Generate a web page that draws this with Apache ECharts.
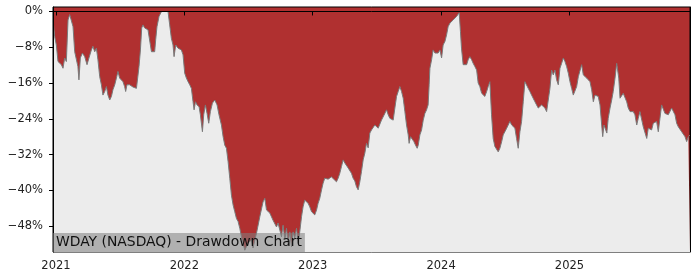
<!DOCTYPE html>
<html>
<head>
<meta charset="utf-8">
<script src="https://cdn.jsdelivr.net/npm/echarts@6/dist/echarts.min.js"></script>
<style>html,body{margin:0;padding:0;background:#fff;}#c{width:700px;height:280px;}</style>
</head>
<body>
<div id="c"></div>
<script>
// Time in decimal years, drawdown in percent
const years = [
2020.977,2020.990,2021.003,2021.016,2021.029,2021.042,2021.055,2021.068,2021.081,2021.094,
2021.107,2021.120,2021.133,2021.146,2021.159,2021.171,2021.179,2021.190,2021.206,2021.224,
2021.242,2021.257,2021.276,2021.288,2021.302,2021.315,2021.327,2021.341,2021.354,2021.366,
2021.380,2021.393,2021.405,2021.419,2021.432,2021.444,2021.458,2021.471,2021.483,2021.496,
2021.510,2021.522,2021.535,2021.543,2021.553,2021.574,2021.588,2021.600,2021.627,2021.634,
2021.647,2021.658,2021.668,2021.678,2021.691,2021.705,2021.717,2021.730,2021.744,2021.756,
2021.769,2021.777,2021.787,2021.803,2021.822,2021.847,2021.873,2021.886,2021.899,2021.912,
2021.920,2021.933,2021.951,2021.964,2021.977,2021.990,2022.003,2022.016,2022.029,2022.042,
2022.055,2022.068,2022.076,2022.087,2022.099,2022.115,2022.125,2022.141,2022.151,2022.164,
2022.177,2022.190,2022.203,2022.219,2022.237,2022.255,2022.270,2022.289,2022.302,2022.315,
2022.328,2022.341,2022.354,2022.367,2022.380,2022.393,2022.406,2022.419,2022.432,2022.445,
2022.458,2022.471,2022.496,2022.523,2022.535,2022.562,2022.588,2022.613,2022.627,2022.640,
2022.666,2022.679,2022.691,2022.718,2022.730,2022.744,2022.757,2022.769,2022.783,2022.796,
2022.808,2022.822,2022.835,2022.847,2022.860,2022.874,2022.886,2022.899,2022.913,2022.925,
2022.938,2022.952,2022.964,2022.977,2022.991,2023.003,2023.016,2023.030,2023.042,2023.055,
2023.069,2023.081,2023.094,2023.108,2023.120,2023.133,2023.146,2023.159,2023.185,2023.198,
2023.211,2023.224,2023.237,2023.250,2023.263,2023.276,2023.302,2023.315,2023.328,2023.341,
2023.354,2023.367,2023.380,2023.393,2023.406,2023.419,2023.432,2023.445,2023.458,2023.471,
2023.484,2023.497,2023.510,2023.523,2023.536,2023.549,2023.562,2023.575,2023.588,2023.601,
2023.614,2023.627,2023.640,2023.653,2023.666,2023.679,2023.692,2023.705,2023.718,2023.731,
2023.744,2023.751,2023.762,2023.775,2023.788,2023.801,2023.814,2023.822,2023.835,2023.848,
2023.861,2023.874,2023.887,2023.899,2023.907,2023.913,2023.926,2023.938,2023.952,2023.965,
2023.977,2023.991,2024.004,2024.016,2024.030,2024.043,2024.055,2024.069,2024.082,2024.094,
2024.107,2024.121,2024.133,2024.141,2024.151,2024.159,2024.172,2024.185,2024.199,2024.211,
2024.224,2024.238,2024.250,2024.263,2024.277,2024.289,2024.302,2024.316,2024.328,2024.341,
2024.355,2024.367,2024.380,2024.393,2024.406,2024.419,2024.432,2024.445,2024.458,2024.472,
2024.484,2024.497,2024.511,2024.523,2024.536,2024.550,2024.562,2024.575,2024.588,2024.601,
2024.614,2024.627,2024.640,2024.653,2024.666,2024.679,2024.692,2024.705,2024.718,2024.731,
2024.744,2024.757,2024.770,2024.783,2024.796,2024.809,2024.822,2024.835,2024.848,2024.861,
2024.874,2024.887,2024.900,2024.913,2024.926,2024.939,2024.952,2024.965,2024.978,2024.991,
2025.004,2025.017,2025.030,2025.043,2025.056,2025.069,2025.082,2025.095,2025.108,2025.121,
2025.134,2025.147,2025.160,2025.173,2025.186,2025.199,2025.212,2025.224,2025.238,2025.251,
2025.259,2025.269,2025.279,2025.291,2025.302,2025.316,2025.329,2025.341,2025.355,2025.368,
2025.376,2025.384,2025.394,2025.407,2025.419,2025.433,2025.446,2025.458,2025.472,2025.485,
2025.497,2025.510,2025.524,2025.536,2025.549,2025.562,2025.575,2025.588,2025.602,2025.614,
2025.627,2025.640,2025.653,2025.666,2025.679,2025.692,2025.705,2025.718,2025.731,2025.744,
2025.757,2025.770,2025.783,2025.796,2025.809,2025.822,2025.835,2025.848,2025.861,2025.874,
2025.887,2025.900,2025.913,2025.926,2025.939
];
const drawdown = [
-1.9,-5.6,-7.5,-11.2,-11.6,-11.9,-12.7,-10.4,-11.2,-1.9,
-0.7,-0.7,-3.4,-9.0,-9.3,-12.3,-15.3,-10.4,-9.3,-10.1,
-11.9,-10.4,-8.6,-7.8,-9.0,-8.2,-10.8,-14.6,-16.4,-18.7,
-17.9,-16.8,-18.7,-19.8,-19.0,-17.5,-16.4,-14.9,-13.4,-14.9,
-15.3,-15.7,-16.8,-17.9,-16.4,-16.4,-16.8,-16.9,-17.2,-16.8,
-12.3,-8.6,-3.7,-3.0,-3.7,-3.7,-4.1,-4.1,-9.0,-9.3,
-9.0,-6.3,-3.4,-1.1,0,0,0,-3.0,-6.0,-7.5,
-10.1,-7.5,-8.2,-7.8,-8.6,-9.7,-13.8,-14.9,-15.7,-16.4,
-17.2,-20.2,-22.0,-20.2,-20.9,-21.3,-23.1,-26.9,-23.1,-20.9,
-22.8,-25.0,-22.4,-20.5,-19.8,-20.9,-23.1,-25.4,-28.0,-29.9,
-30.6,-33.6,-37.3,-41.1,-43.3,-44.8,-46.3,-47.0,-48.5,-50.4,
-51.8,-53.4,-51.8,-51.1,-52.9,-49.6,-45.9,-42.6,-41.8,-44.4,
-45.1,-45.5,-46.7,-48.2,-47.3,-48.9,-50.4,-47.8,-51.1,-48.5,
-51.9,-49.3,-52.6,-49.3,-50.7,-48.5,-51.9,-49.3,-45.9,-43.7,
-42.2,-41.8,-42.9,-43.7,-44.8,-44.9,-45.5,-44.4,-42.9,-41.8,
-39.9,-38.4,-37.3,-37.0,-37.5,-37.7,-37.0,-37.3,-38.1,-37.3,
-36.2,-34.7,-33.2,-33.9,-34.3,-35.0,-36.2,-37.3,-37.9,-39.2,
-39.9,-38.1,-35.8,-33.2,-31.7,-29.5,-30.5,-27.2,-26.5,-26.9,
-25.4,-25.8,-26.1,-26.1,-24.3,-24.3,-22.8,-22.0,-23.1,-23.9,
-24.3,-24.3,-21.6,-19.0,-17.9,-16.8,-17.9,-19.4,-22.4,-25.4,
-27.6,-29.5,-28.0,-28.4,-29.1,-29.9,-30.6,-29.9,-27.6,-26.5,
-24.3,-22.8,-22.0,-20.9,-16.4,-12.7,-10.8,-8.6,-9.3,-9.0,
-9.3,-8.6,-10.4,-7.5,-6.7,-5.2,-3.4,-2.6,-2.6,-1.9,
-1.5,-1.1,-0.9,-0.3,-4.5,-8.2,-11.9,-12.3,-11.9,-10.8,
-10.1,-10.8,-11.6,-12.3,-13.1,-16.0,-16.8,-18.3,-18.3,-19.0,
-17.9,-16.8,-15.7,-23.1,-28.4,-30.2,-30.6,-31.4,-30.6,-29.1,
-27.6,-26.9,-26.1,-25.8,-24.6,-25.4,-25.0,-26.1,-28.4,-30.6,
-26.9,-24.6,-20.2,-15.7,-16.0,-17.2,-17.9,-18.7,-19.0,-20.2,
-20.9,-21.6,-21.3,-20.9,-20.5,-21.6,-22.4,-22.0,-17.2,-13.1,
-14.2,-13.1,-15.3,-16.4,-12.7,-11.6,-10.4,-11.2,-12.3,-13.8,
-15.7,-17.2,-18.7,-18.3,-16.8,-14.6,-14.2,-11.9,-14.2,-14.6,
-14.9,-14.6,-15.7,-17.5,-20.2,-18.7,-18.3,-19.0,-20.9,-25.4,
-28.0,-25.4,-25.0,-27.2,-23.9,-21.6,-19.8,-17.9,-14.9,-11.6,
-11.9,-14.9,-19.4,-19.0,-18.3,-18.7,-20.2,-21.6,-22.4,-22.0,
-22.4,-23.1,-25.4,-23.9,-22.4,-22.4,-25.8,-26.1,-28.4,-26.1,
-25.8,-26.5,-25.0,-25.0,-24.6,-26.9,-23.9,-20.9,-20.5,-22.8,
-23.1,-23.1,-23.5,-21.6,-21.3,-23.1,-25.0,-25.8,-26.1,-26.9,
-26.5,-28.0,-29.1,-28.0,-27.6
];
const yearTicks = [2021, 2022, 2023, 2024, 2025];
const pctTicks = [0, -8, -16, -24, -32, -40, -48];
const titleText = 'WDAY (NASDAQ) - Drawdown Chart';

const chart = echarts.init(document.getElementById('c'), null, {renderer: 'canvas'});
const font = 'DejaVu Sans';
const frameAxis = {
  type: 'value', min: -53.8, max: 1.0, show: true, z: 5,
  splitLine: {show: false}, axisTick: {show: false}, axisLabel: {show: false},
  axisLine: {show: true, lineStyle: {color: '#000', width: 1}}
};
chart.setOption({
  animation: false,
  textStyle: {fontFamily: font},
  grid: {left: 53, right: 10, top: 7, bottom: 28, show: true,
         backgroundColor: '#b03030', borderColor: '#000', borderWidth: 1},
  title: {
    text: titleText, left: 53, top: 233, z: 10,
    padding: [1, 3, 2, 3],
    backgroundColor: 'rgba(128,128,128,0.55)',
    textStyle: {fontFamily: font, fontSize: 13.9, fontWeight: 'normal', color: '#111', lineHeight: 16}
  },
  xAxis: {
    type: 'value', min: 2020.977, max: 2025.939, z: 5,
    splitLine: {show: false},
    axisLine: {show: true, lineStyle: {color: '#000', width: 1}},
    axisTick: {show: true, length: 4, customValues: yearTicks, lineStyle: {color: '#000'}},
    axisLabel: {customValues: yearTicks, margin: 8, fontFamily: font, fontSize: 11.5, color: '#222',
                formatter: v => String(Math.round(Number(v)))}
  },
  yAxis: [{
    type: 'value', min: -53.8, max: 1.0, z: 5,
    splitLine: {show: false},
    axisLine: {show: true, lineStyle: {color: '#000', width: 1}},
    axisTick: {show: true, length: 4, customValues: pctTicks, lineStyle: {color: '#000'}},
    axisLabel: {customValues: pctTicks, margin: 10, fontFamily: font, fontSize: 11.5, color: '#222',
                formatter: v => (Number(v) < 0 ? '\u2212' + Math.abs(Number(v)) : String(Number(v))) + '%'}
  }, Object.assign({position: 'right'}, frameAxis)],
  series: [{
    type: 'line',
    data: years.map((y, i) => [y, drawdown[i]]),
    showSymbol: false,
    smooth: false,
    lineStyle: {color: '#7a7a7a', width: 1},
    areaStyle: {color: '#ececec', opacity: 1, origin: 'start'},
    z: 2
  }]
});
</script>
</body>
</html>
